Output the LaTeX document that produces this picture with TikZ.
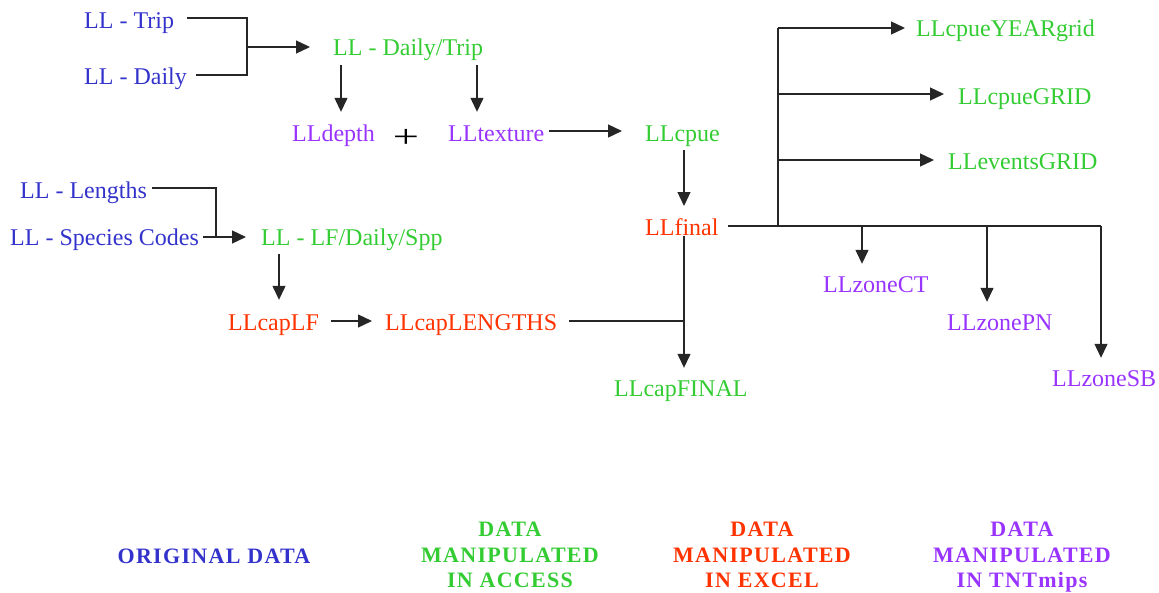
\documentclass[tikz,border=0pt]{standalone}
\usepackage{fontspec}
\setmainfont{Liberation Serif}
\newfontfamily\legendfont[LetterSpace=6]{Liberation Serif}
\usetikzlibrary{arrows.meta,calc}
\definecolor{blueC}{HTML}{3333CC}
\definecolor{greenC}{HTML}{33CC33}
\definecolor{redC}{HTML}{FF3300}
\definecolor{purpC}{HTML}{9933FF}
\tikzset{
  lab/.style={anchor=west, inner xsep=0pt, inner ysep=0pt, text height=16pt, text depth=0pt,
    font=\fontsize{24}{28}\selectfont},
  orig/.style={lab, text=blueC},
  acc/.style={lab, text=greenC},
  exc/.style={lab, text=redC},
  tnt/.style={lab, text=purpC},
  ln/.style={line width=1.3pt, draw=black!85},
  arr/.style={ln, -{Triangle[length=14pt,width=13pt]}},
  legend/.style={align=center, anchor=north, inner sep=0pt, font=\legendfont\bfseries\fontsize{22}{25.5}\selectfont}
}
\begin{document}
\begin{tikzpicture}[x=1pt,y=-1pt]
\useasboundingbox (0,0) rectangle (1159,592);
% nodes
\node[orig] (trip) at (84,20) {LL - Trip};
\node[orig] (daily) at (84,76) {LL - Daily};
\node[acc] (dt) at (333,47) {LL - Daily/Trip};
\node[tnt] (depth) at (292,133) {LLdepth};
\node[anchor=base, inner sep=0pt] (plus) at (406,147) {\fontsize{32}{32}\selectfont\scalebox{1.45}[1]{+}};
\node[tnt] (texture) at (448,133) {LLtexture};
\node[acc] (cpue) at (645,133) {LLcpue};
\node[exc] (final) at (645,227) {LLfinal};
\node[acc] (yeargrid) at (916,28) {LLcpueYEARgrid};
\node[acc] (cpuegrid) at (958,96) {LLcpueGRID};
\node[acc] (events) at (948,161) {LLeventsGRID};
\node[tnt] (zct) at (823,284) {LLzoneCT};
\node[tnt] (zpn) at (947,322) {LLzonePN};
\node[tnt] (zsb) at (1052,378) {LLzoneSB};
\node[acc] (capfinal) at (614,388) {LLcapFINAL};
\node[orig] (lengths) at (20,190) {LL - Lengths};
\node[orig] (species) at (10,237) {LL - Species Codes};
\node[acc] (lf) at (261,237) {LL - LF/Daily/Spp};
\node[exc] (caplf) at (228,322) {LLcapLF};
\node[exc] (caplen) at (385,322) {LLcapLENGTHS};
% legend
\node[legend, anchor=center, text=blueC] (lorig) at (214,556) {ORIGINAL DATA};
\node[legend, text=greenC] (lacc) at (510,522) {DATA\\MANIPULATED\\IN ACCESS};
\node[legend, text=redC] (lexc) at (762,522) {DATA\\MANIPULATED\\IN EXCEL};
\node[legend, text=purpC] (ltnt) at (1022,522) {DATA\\MANIPULATED\\IN TNTmips};
% junction coordinates
\coordinate (j1) at (247,47);
\coordinate (j2) at (778,226);
\coordinate (j3) at (216,237);
\coordinate (b1) at (862,226);
\coordinate (b2) at (987,226);
\coordinate (b3) at (1101,226);
% connectors
\draw[ln] ([xshift=13pt,yshift=2pt]trip.east) -| (j1) |- ([xshift=9pt,yshift=1pt]daily.east);
\draw[arr] (j1) -- ([xshift=-23pt]dt.west);
\draw[arr] ([shift={(8,18)}]dt.west) -- ([xshift=8pt,yshift=13pt]dt.west |- depth.north);
\draw[arr] ([shift={(144,18)}]dt.west) -- ([xshift=144pt,yshift=13pt]dt.west |- texture.north);
\draw[arr] ([xshift=5pt,yshift=2pt]texture.east) -- ([xshift=-23pt,yshift=2pt]cpue.west);
\draw[arr] ([xshift=39pt,yshift=-17pt]cpue.west) -- ([xshift=39pt,yshift=21pt]cpue.west |- final.west);
\draw[ln] ([xshift=9pt,yshift=1pt]final.east) -- (b3);
\draw[ln] (j2) -- (j2 |- yeargrid.west);
\draw[arr] (j2 |- yeargrid.west) -- ([xshift=-11pt]yeargrid.west);
\draw[arr] ([yshift=2pt]j2 |- cpuegrid.west) -- ([xshift=-14pt,yshift=2pt]cpuegrid.west);
\draw[arr] ([yshift=1pt]j2 |- events.west) -- ([xshift=-14pt,yshift=1pt]events.west);
\draw[arr] (b1) -- ([yshift=12pt]b1 |- zct.north);
\draw[arr] (b2) -- ([yshift=12pt]b2 |- zpn.north);
\draw[arr] (b3) -- ([yshift=12pt]b3 |- zsb.north);
\coordinate (fdown) at ([xshift=39pt,yshift=-1pt]final.south west);
\draw[arr] (fdown) -- ([yshift=12pt]fdown |- capfinal.north);
\draw[ln] ([xshift=12pt,yshift=1pt]caplen.east) -- ([yshift=1pt]fdown |- caplen.east);
\draw[ln] ([xshift=5pt,yshift=2pt]lengths.east) -| (j3);
\draw[arr] ([xshift=4pt]species.east) -- ([xshift=-15pt]lf.west);
\draw[arr] ([shift={(18,17)}]lf.west) -- ([xshift=18pt,yshift=14pt]lf.west |- caplf.north);
\draw[arr] ([xshift=12pt,yshift=1pt]caplf.east) -- ([xshift=-13pt,yshift=1pt]caplen.west);
\end{tikzpicture}
\end{document}
